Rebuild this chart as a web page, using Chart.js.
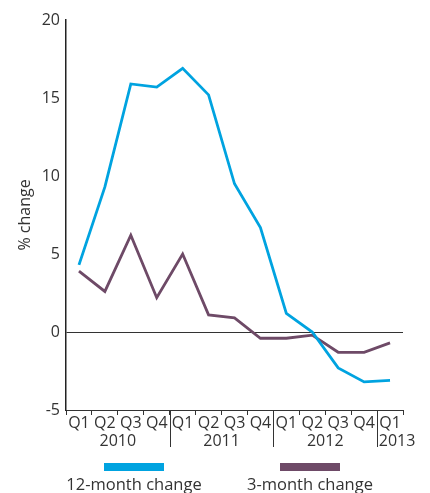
<!DOCTYPE html>
<html>
<head>
<meta charset="utf-8">
<script src="https://cdn.jsdelivr.net/npm/chart.js@4"></script>
<style>
html,body{margin:0;padding:0;background:#fff;}
#wrap{width:430px;height:493px;position:relative;}
</style>
</head>
<body>
<div id="wrap"><canvas id="c" width="430" height="493"></canvas></div>
<script>
const quarters = ['Q1','Q2','Q3','Q4','Q1','Q2','Q3','Q4','Q1','Q2','Q3','Q4','Q1'];
const years = [
  {label:'2010', from:0, to:3},
  {label:'2011', from:4, to:7},
  {label:'2012', from:8, to:11},
  {label:'2013', from:12, to:12}
];
const twelveMonth = [4.3, 9.3, 15.9, 15.7, 16.9, 15.2, 9.5, 6.7, 1.2, 0.0, -2.3, -3.2, -3.1];
const threeMonth = [3.9, 2.6, 6.2, 2.2, 5.0, 1.1, 0.9, -0.4, -0.4, -0.2, -1.3, -1.3, -0.7];
const yTicks = [20, 15, 10, 5, 0, -5];
const seriesNames = ['12-month change', '3-month change'];
const BLUE = '#00a3e0';
const PURPLE = '#6e4a67';
const TXT = '#333333';
const FONT = "'Open Sans', 'Noto Sans', sans-serif";

const extras = {
  id: 'extras',
  afterDraw(chart) {
    const ctx = chart.ctx;
    const x = chart.scales.x;
    const area = chart.chartArea;
    ctx.save();
    ctx.strokeStyle = '#333';
    ctx.lineWidth = 1;
    for (let i = 1; i < years.length; i++) {
      const b = years[i].from;
      const px = Math.round((x.getPixelForValue(b - 1) + x.getPixelForValue(b)) / 2) + 0.5;
      ctx.beginPath();
      ctx.moveTo(px, area.bottom);
      ctx.lineTo(px, area.bottom + 37);
      ctx.stroke();
    }
    ctx.fillStyle = TXT;
    ctx.font = "16px " + FONT;
    ctx.textAlign = 'center';
    ctx.textBaseline = 'alphabetic';
    years.forEach((y, i) => {
      let cx = (x.getPixelForValue(y.from) + x.getPixelForValue(y.to)) / 2;
      if (i === years.length - 1) cx += 7;
      ctx.fillText(y.label, cx, area.bottom + 36);
    });
    ctx.save();
    ctx.translate(25, 215);
    ctx.rotate(-Math.PI / 2);
    ctx.font = "16px " + FONT;
    ctx.textAlign = 'center';
    ctx.textBaseline = 'middle';
    ctx.fillText('% change', 0, 0);
    ctx.restore();
    const cols = [BLUE, PURPLE];
    const centers = [134, 310];
    cols.forEach((c, i) => {
      ctx.fillStyle = c;
      ctx.fillRect(centers[i] - 30, 463, 60, 8);
      ctx.fillStyle = TXT;
      ctx.font = "16.5px " + FONT;
      ctx.textAlign = 'center';
      ctx.fillText(seriesNames[i], centers[i], 490);
    });
    ctx.restore();
  }
};

new Chart(document.getElementById('c'), {
  type: 'line',
  data: {
    labels: quarters,
    datasets: [
      {label: seriesNames[0], data: twelveMonth, borderColor: BLUE, borderWidth: 2.8, pointRadius: 0, tension: 0, fill: false},
      {label: seriesNames[1], data: threeMonth, borderColor: PURPLE, borderWidth: 2.8, pointRadius: 0, tension: 0, fill: false}
    ]
  },
  options: {
    responsive: false,
    animation: false,
    layout: {padding: {top: 20, right: 27, bottom: 0, left: 0}},
    plugins: {legend: {display: false}, tooltip: {enabled: false}},
    scales: {
      x: {
        offset: true,
        afterFit(s) { s.height = 83; },
        grid: {offset: true, drawOnChartArea: false, drawTicks: true, tickLength: 5, color: '#333', lineWidth: 1},
        border: {display: true, color: '#333', width: 1},
        ticks: {color: TXT, font: {size: 16, family: FONT}, padding: -1, maxRotation: 0, autoSkip: false}
      },
      y: {
        min: -5, max: 20,
        afterFit(s) { s.width = 66; },
        afterBuildTicks(s) { s.ticks = yTicks.map(v => ({value: v})); },
        grid: {drawTicks: false, color: ctx => (ctx.tick && ctx.tick.value === 0) ? '#333' : 'rgba(0,0,0,0)', lineWidth: 1},
        border: {display: true, color: '#222', width: 1.5},
        ticks: {color: TXT, font: {size: 16, family: FONT}, padding: 6}
      }
    }
  },
  plugins: [extras]
});
</script>
</body>
</html>
